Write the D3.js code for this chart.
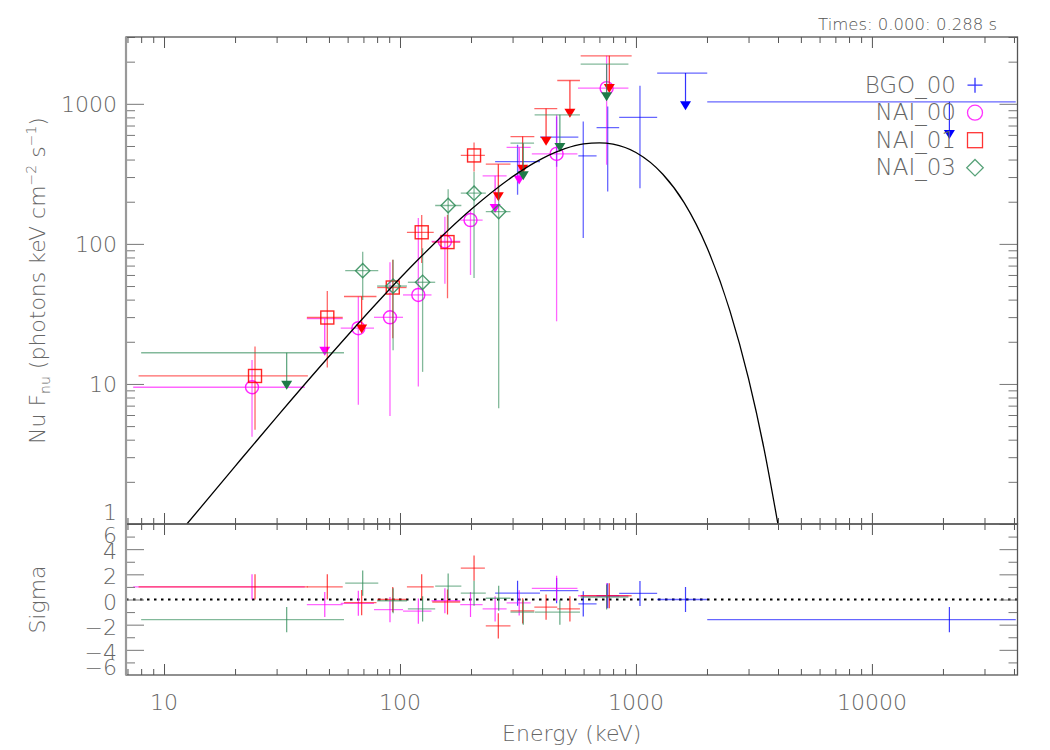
<!DOCTYPE html>
<html>
<head>
<meta charset="utf-8">
<script src="https://cdn.jsdelivr.net/npm/d3@7"></script>
<style>
body { margin: 0; background: #fff; }
text { font-family: "DejaVu Sans", sans-serif; font-weight: 300; fill: #666; }
</style>
</head>
<body>
<svg width="1050" height="750"></svg>
<script>

// ---- data (energy keV, nu F_nu, sigma residuals) ----
var bgoELo  = [253, 392, 570, 681, 849, 1230, 2005];
var bgoEHi  = [392, 570, 681, 849, 1230, 2005, 40700];
var bgoE    = [315, 461, 598, 759, 1040, 1622, 21300];
var bgoFlux = [387, 578, 425, 677, 799, 1657, 1033];
var bgoFLo  = [224, 356, 110, 237, 250, null, null];
var bgoFHi  = [510, 811, 747, 957, 1345, null, null];
var bgoUL   = [0, 0, 0, 0, 0, 1, 1];
var bgoSig  = [0.5, 0.7, -0.35, 0.3, 0.48, 0.0, -1.6];

var n0ELo  = [7.4, 40.3, 56.1, 77.6, 103, 136, 180, 224, 283, 362, 568];
var n0EHi  = [39.5, 57.2, 77.6, 103, 136, 180, 224, 283, 358, 565, 929];
var n0E    = [23.6, 48, 66.6, 90.7, 119.6, 155, 199, 253, 320, 461, 751];
var n0Flux = [9.47, 29.3, 25.0, 29.9, 43.2, 104, 148, 306, 488, 439, 1294];
var n0FLo  = [4.2, null, 7.1, 5.9, 9.6, 52, 60, null, null, 28, 367];
var n0FHi  = [14.8, null, 42, 74, 153, 156, 175, null, null, 834, 2203];
var n0UL   = [0, 1, 0, 0, 0, 0, 0, 1, 1, 0, 0];
var n0Sig  = [1.0, -0.4, -0.3, -0.8, -0.93, -0.1, -0.4, -0.75, -0.27, 0.88, 0.3];

var n1ELo  = [7.8, 40.3, 57.9, 80.1, 107, 137, 181, 231, 294, 371, 464, 583];
var n1EHi  = [40.7, 57.2, 79.5, 106.6, 139, 180, 229, 294, 371, 464, 579, 959];
var n1E    = [24.3, 49.2, 68.8, 93.2, 123.6, 159, 206, 261, 331, 416, 525, 771];
var n1Flux = [11.4, 29.8, 42.1, 48.8, 121, 103, 428, 371, 584, 925, 1467, 2203];
var n1FLo  = [4.7, 13.1, null, 21.2, 73, 40.9, 329, null, null, null, null, null];
var n1FHi  = [18.5, 46.1, null, 76.9, 161, 161, 530, null, null, null, null, null];
var n1UL   = [0, 0, 1, 0, 0, 0, 0, 1, 1, 1, 1, 1];
var n1Sig  = [1.0, 1.0, -0.25, 0.0, 1.0, -0.2, 2.5, -2.1, -0.9, -0.6, -0.75, 0.3];

var n3ELo  = [8.0, 58.6, 80, 108, 141, 181, 231, 294, 372, 583];
var n3EHi  = [57.9, 80.9, 107, 141, 182, 231, 294, 370, 579, 929];
var n3E    = [33.1, 69.5, 93.5, 124.7, 160, 206, 262, 333, 476, 751];
var n3Flux = [16.7, 64.4, 50, 53.2, 188, 230, 170, 524, 834, 1922];
var n3FLo  = [null, 39.8, 17.4, 12.2, 126, 57, 6.7, null, null, null];
var n3FHi  = [null, 88, 77, 93.1, 246, 328, 264, null, null, null];
var n3UL   = [1, 0, 0, 0, 0, 0, 0, 1, 1, 1];
var n3Sig  = [-1.6, 1.3, -0.1, -0.75, 1.07, 0.5, 0.1, -1.0, -1.0, 0.2];

// model curve
var modelE = [12.5, 20, 30, 50, 80, 120, 200, 300, 400, 500, 600, 700, 800, 1000, 1300, 1600, 2000, 2500, 3000, 3500, 4000];
var modelF = [1.0, 2.58, 5.80, 15.7, 38.0, 77.9, 176, 302, 406, 478, 517, 527, 515, 449, 314, 197, 94.2, 33.4, 10.9, 3.36, 0.99];

var xMajor = [10, 100, 1000, 10000];
var yMajor = [1, 10, 100, 1000];
var rMajor = [-4, -2, 0, 2, 4];
var rMinor = [-5, -3, -1, 1, 3, 5];
var rLabels = [6, 4, 2, 0, -2, -4, -6];

var timesLabel = "Times: 0.000: 0.288 s";

// ---- layout ----
var svg = d3.select("svg");
var pL = 126, pR = 1017.5, pT = 37, pM = 524, pB = 675;

var x = d3.scaleLog().domain([6.9, 41400]).range([pL, pR]);
var y = d3.scaleLog().domain([1, 3000]).range([pM, pT]);
var yr = d3.scaleLinear().domain([-6, 6]).range([pB, pM]);

var arrowFrac = 0.585;

function rows(eLo, eHi, e, f, fLo, fHi, ul, sig) {
  return e.map(function(v, i) {
    return {eLo: eLo[i], eHi: eHi[i], e: v, f: f[i], lo: fLo[i], hi: fHi[i], ul: ul[i], sig: sig[i]};
  });
}

var detectors = [
  {name: "BGO_00", color: "#0000ff", tri: "#0000ff", sym: "plus",
   data: rows(bgoELo, bgoEHi, bgoE, bgoFlux, bgoFLo, bgoFHi, bgoUL, bgoSig)},
  {name: "NAI_00", color: "#ff00ff", tri: "#ff00ff", sym: "circle",
   data: rows(n0ELo, n0EHi, n0E, n0Flux, n0FLo, n0FHi, n0UL, n0Sig)},
  {name: "NAI_01", color: "#ff0000", tri: "#ff0000", sym: "square",
   data: rows(n1ELo, n1EHi, n1E, n1Flux, n1FLo, n1FHi, n1UL, n1Sig)},
  {name: "NAI_03", color: "#2e8b57", tri: "#1f7a48", sym: "diamond",
   data: rows(n3ELo, n3EHi, n3E, n3Flux, n3FLo, n3FHi, n3UL, n3Sig)}
];

var defs = svg.append("defs");
defs.append("clipPath").attr("id", "clipMain").append("rect")
  .attr("x", pL).attr("y", pT).attr("width", pR - pL).attr("height", pM - pT);
defs.append("clipPath").attr("id", "clipRes").append("rect")
  .attr("x", pL).attr("y", pM).attr("width", pR - pL).attr("height", pB - pM);

function drawSymbol(g, sym, color, size) {
  if (sym == "circle") {
    g.append("circle").attr("r", size * 0.5).attr("fill", "none").attr("stroke", color);
  } else if (sym == "square") {
    g.append("rect").attr("x", -size / 2).attr("y", -size / 2)
      .attr("width", size).attr("height", size).attr("fill", "none").attr("stroke", color);
  } else if (sym == "diamond") {
    var h = size * 0.55;
    g.append("path").attr("d", "M0," + (-h) + "L" + h + ",0L0," + h + "L" + (-h) + ",0Z")
      .attr("fill", "none").attr("stroke", color);
  } else if (sym == "plus") {
    var p = size / 2;
    g.append("path").attr("d", "M" + (-p) + ",0H" + p + "M0," + (-p) + "V" + p)
      .attr("fill", "none").attr("stroke", color);
  }
}

// ---- main panel data ----
var main = svg.append("g").attr("clip-path", "url(#clipMain)");

detectors.forEach(function(det) {
  var g = main.append("g").attr("class", det.name);

  // horizontal bars (bin widths)
  g.selectAll(".hbar").data(det.data).enter().append("line")
    .attr("x1", function(d) { return x(d.eLo); })
    .attr("x2", function(d) { return x(d.eHi); })
    .attr("y1", function(d) { return y(d.f); })
    .attr("y2", function(d) { return y(d.f); })
    .attr("stroke", det.color).attr("stroke-opacity", 0.6).attr("stroke-width", 1.3);

  // vertical error bars
  g.selectAll(".vbar").data(det.data.filter(function(d) { return !d.ul; })).enter().append("line")
    .attr("x1", function(d) { return x(d.e); })
    .attr("x2", function(d) { return x(d.e); })
    .attr("y1", function(d) { return y(d.hi); })
    .attr("y2", function(d) { return y(d.lo); })
    .attr("stroke", det.color).attr("stroke-opacity", 0.6).attr("stroke-width", 1.3);

  // upper limit arrows
  var uls = det.data.filter(function(d) { return d.ul; });
  g.selectAll(".arrow").data(uls).enter().append("line")
    .attr("x1", function(d) { return x(d.e); })
    .attr("x2", function(d) { return x(d.e); })
    .attr("y1", function(d) { return y(d.f); })
    .attr("y2", function(d) { return y(d.f * arrowFrac) - 4; })
    .attr("stroke", det.color).attr("stroke-opacity", 0.8).attr("stroke-width", 1.2);

  g.selectAll(".tri").data(uls).enter().append("path")
    .attr("transform", function(d) { return "translate(" + x(d.e) + "," + y(d.f * arrowFrac) + ")"; })
    .attr("d", "M-5.5,-4.5L5.5,-4.5L0,4.5Z")
    .attr("fill", det.tri);

  // markers
  if (det.sym != "plus") {
    g.selectAll(".mark").data(det.data.filter(function(d) { return !d.ul; })).enter().append("g")
      .attr("transform", function(d) { return "translate(" + x(d.e) + "," + y(d.f) + ")"; })
      .each(function() {
        drawSymbol(d3.select(this), det.sym, det.color, 13);
      })
      .attr("stroke-width", 1.4).attr("opacity", 0.85);
  }
});

// model line
var line = d3.line()
  .x(function(d, i) { return x(modelE[i]); })
  .y(function(d) { return y(d); })
  .curve(d3.curveMonotoneX);

main.append("path")
  .attr("d", line(modelF))
  .attr("fill", "none")
  .attr("stroke", "#000")
  .attr("stroke-width", 1.3);

// ---- residual panel ----
var res = svg.append("g").attr("clip-path", "url(#clipRes)");

res.append("line")
  .attr("x1", pL).attr("x2", pR)
  .attr("y1", yr(0)).attr("y2", yr(0))
  .attr("stroke", "#000").attr("stroke-width", 2)
  .attr("stroke-dasharray", "2.5,4.5");

detectors.forEach(function(det) {
  var g = res.append("g");
  g.selectAll(".rh").data(det.data).enter().append("line")
    .attr("x1", function(d) { return x(d.eLo); })
    .attr("x2", function(d) { return x(d.eHi); })
    .attr("y1", function(d) { return yr(d.sig); })
    .attr("y2", function(d) { return yr(d.sig); })
    .attr("stroke", det.color).attr("stroke-opacity", 0.6).attr("stroke-width", 1.3);
  g.selectAll(".rv").data(det.data).enter().append("line")
    .attr("x1", function(d) { return x(d.e); })
    .attr("x2", function(d) { return x(d.e); })
    .attr("y1", function(d) { return yr(d.sig + 1); })
    .attr("y2", function(d) { return yr(d.sig - 1); })
    .attr("stroke", det.color).attr("stroke-opacity", 0.75).attr("stroke-width", 1.2);
});

// ---- axes / ticks ----
function minorLog(scale) {
  var dom = scale.domain(), out = [];
  for (var p = Math.floor(Math.log10(dom[0])); p <= Math.ceil(Math.log10(dom[1])); p++) {
    for (var k = 2; k <= 9; k++) {
      var v = k * Math.pow(10, p);
      if (v >= dom[0] && v <= dom[1]) out.push(v);
    }
  }
  return out;
}

function tickRow(axisFn, scale, vals, size, tx, ty, color) {
  var g = svg.append("g").attr("transform", "translate(" + tx + "," + ty + ")")
    .call(axisFn(scale).tickValues(vals).tickSize(size).tickFormat(""));
  g.select(".domain").remove();
  g.selectAll("text").remove();
  g.selectAll("line").attr("stroke", color);
  return g;
}

var xMinor = minorLog(x);
var yMinor = minorLog(y);

// x ticks: main top, main bottom, residual top, residual bottom
tickRow(d3.axisTop, x, xMajor, -11, 0, pT, "#555");
tickRow(d3.axisTop, x, xMinor, -6, 0, pT, "#555");
tickRow(d3.axisBottom, x, xMajor, -11, 0, pM, "#555");
tickRow(d3.axisBottom, x, xMinor, -6, 0, pM, "#555");
tickRow(d3.axisTop, x, xMajor, -11, 0, pM, "#555");
tickRow(d3.axisTop, x, xMinor, -6, 0, pM, "#555");
tickRow(d3.axisBottom, x, xMajor, -11, 0, pB, "#555");
tickRow(d3.axisBottom, x, xMinor, -6, 0, pB, "#555");

// y ticks main
tickRow(d3.axisLeft, y, yMajor, -18, pL, 0, "#777");
tickRow(d3.axisLeft, y, yMinor, -9, pL, 0, "#777");
tickRow(d3.axisRight, y, yMajor, -18, pR, 0, "#777");
tickRow(d3.axisRight, y, yMinor, -9, pR, 0, "#777");

// y ticks residual
tickRow(d3.axisLeft, yr, rMajor, -18, pL, 0, "#777");
tickRow(d3.axisLeft, yr, rMinor, -9, pL, 0, "#777");
tickRow(d3.axisRight, yr, rMajor, -18, pR, 0, "#777");
tickRow(d3.axisRight, yr, rMinor, -9, pR, 0, "#777");

// frames
svg.append("rect").attr("x", pL).attr("y", pT)
  .attr("width", pR - pL).attr("height", pM - pT)
  .attr("fill", "none").attr("stroke", "#555").attr("stroke-width", 1.3);
svg.append("rect").attr("x", pL).attr("y", pM)
  .attr("width", pR - pL).attr("height", pB - pM)
  .attr("fill", "none").attr("stroke", "#555").attr("stroke-width", 1.3);
svg.append("line").attr("x1", pL).attr("x2", pL).attr("y1", pT).attr("y2", pB)
  .attr("stroke", "#999").attr("stroke-width", 2.2);

// tick labels
svg.selectAll(".xl").data(xMajor).enter().append("text")
  .attr("x", function(d) { return x(d); })
  .attr("y", pB + 35)
  .attr("text-anchor", "middle")
  .attr("font-size", 22)
  .text(function(d) { return d; });

svg.selectAll(".yl").data(yMajor).enter().append("text")
  .attr("x", 117)
  .attr("y", function(d) { return Math.min(y(d), pM - 12) + 8; })
  .attr("text-anchor", "end")
  .attr("font-size", 22)
  .text(function(d) { return d; });

svg.selectAll(".rl").data(rLabels).enter().append("text")
  .attr("x", 117)
  .attr("y", function(d) { return Math.max(Math.min(yr(d) + 2, pB - 8), pM + 11) + 8; })
  .attr("text-anchor", "end")
  .attr("font-size", 22)
  .text(function(d) { return d < 0 ? "\u2212" + (-d) : d; });

// axis titles
svg.append("text")
  .attr("x", (pL + pR) / 2).attr("y", 741)
  .attr("text-anchor", "middle").attr("font-size", 22)
  .text("Energy (keV)");

var yt = svg.append("text")
  .attr("transform", "translate(45," + ((pT + pM) / 2) + ") rotate(-90)")
  .attr("text-anchor", "middle").attr("font-size", 22);
yt.append("tspan").text("Nu F");
yt.append("tspan").attr("font-size", 14).attr("dy", 5).text("nu");
yt.append("tspan").attr("dy", -5).text(" (photons keV cm");
yt.append("tspan").attr("font-size", 14).attr("dy", -9).text("\u22122");
yt.append("tspan").attr("dy", 9).text(" s");
yt.append("tspan").attr("font-size", 14).attr("dy", -9).text("\u22121");
yt.append("tspan").attr("dy", 9).text(")");

svg.append("text")
  .attr("transform", "translate(45," + ((pM + pB) / 2) + ") rotate(-90)")
  .attr("text-anchor", "middle").attr("font-size", 22)
  .text("Sigma");

svg.append("text")
  .attr("x", 997).attr("y", 30)
  .attr("text-anchor", "end").attr("font-size", 16.5)
  .style("fill", "#555")
  .text(timesLabel);

// legend
var legend = svg.append("g").attr("class", "legend")
  .selectAll("g").data(detectors).enter().append("g")
  .attr("transform", function(d, i) { return "translate(956," + (92.7 + i * 27.5) + ")"; });

legend.append("text")
  .attr("text-anchor", "end")
  .attr("font-size", 23)
  .text(function(d) { return d.name; });

legend.append("g")
  .attr("transform", "translate(19,-7.5)")
  .each(function(d) { drawSymbol(d3.select(this), d.sym, d.color, 15); })
  .attr("stroke-width", 1.3).attr("opacity", 0.8);

</script>
</body>
</html>
